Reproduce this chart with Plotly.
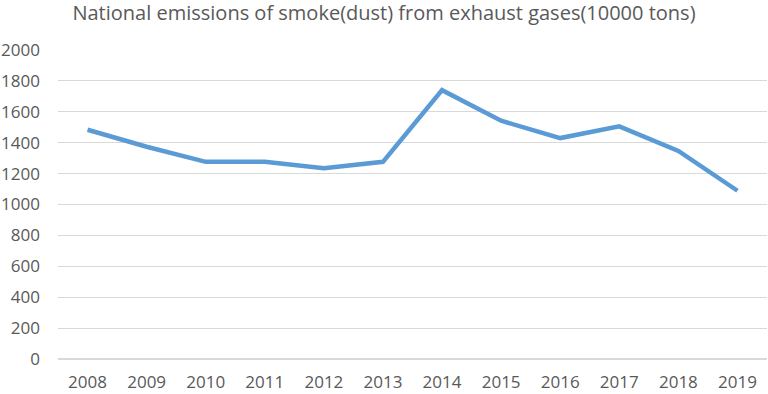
import plotly.graph_objects as go

years = ["2008", "2009", "2010", "2011", "2012", "2013", "2014", "2015", "2016", "2017", "2018", "2019"]
emissions = [1484, 1374, 1276, 1276, 1234, 1276, 1740, 1542, 1430, 1506, 1347, 1089]
y_ticks = [0, 200, 400, 600, 800, 1000, 1200, 1400, 1600, 1800, 2000]

fig = go.Figure()
fig.add_trace(go.Scatter(
    x=years, y=emissions, mode="lines",
    line=dict(color="#5B9BD5", width=4.5),
))

font_fam = "Open Sans, Liberation Sans, Arial, sans-serif"
fig.update_layout(
    width=768, height=394,
    margin=dict(l=55, r=1, t=50, b=31),
    paper_bgcolor="white", plot_bgcolor="white",
    showlegend=False,
    title=dict(
        text="National emissions of smoke(dust) from exhaust gases(10000 tons)",
        x=0.5, xanchor="center", y=0.968, yanchor="middle",
        font=dict(family=font_fam, size=20, color="#595959"),
    ),
    xaxis=dict(
        type="category", range=[-0.5, 11.5],
        showgrid=False, showline=False, zeroline=False, ticks="",
        tickfont=dict(family=font_fam, size=17, color="#595959"),
        ticklabelstandoff=11,
    ),
    yaxis=dict(
        range=[0, 2000], tickvals=y_ticks,
        showgrid=True, gridcolor="#D9D9D9", gridwidth=1,
        zeroline=True, zerolinecolor="#D9D9D9", zerolinewidth=1.5,
        showline=False, ticks="",
        tickfont=dict(family=font_fam, size=17, color="#595959"),
        ticklabelstandoff=17,
    ),
)

fig.write_html("out.html", config={"displayModeBar": False},
               post_script="document.body.style.margin='0';")
